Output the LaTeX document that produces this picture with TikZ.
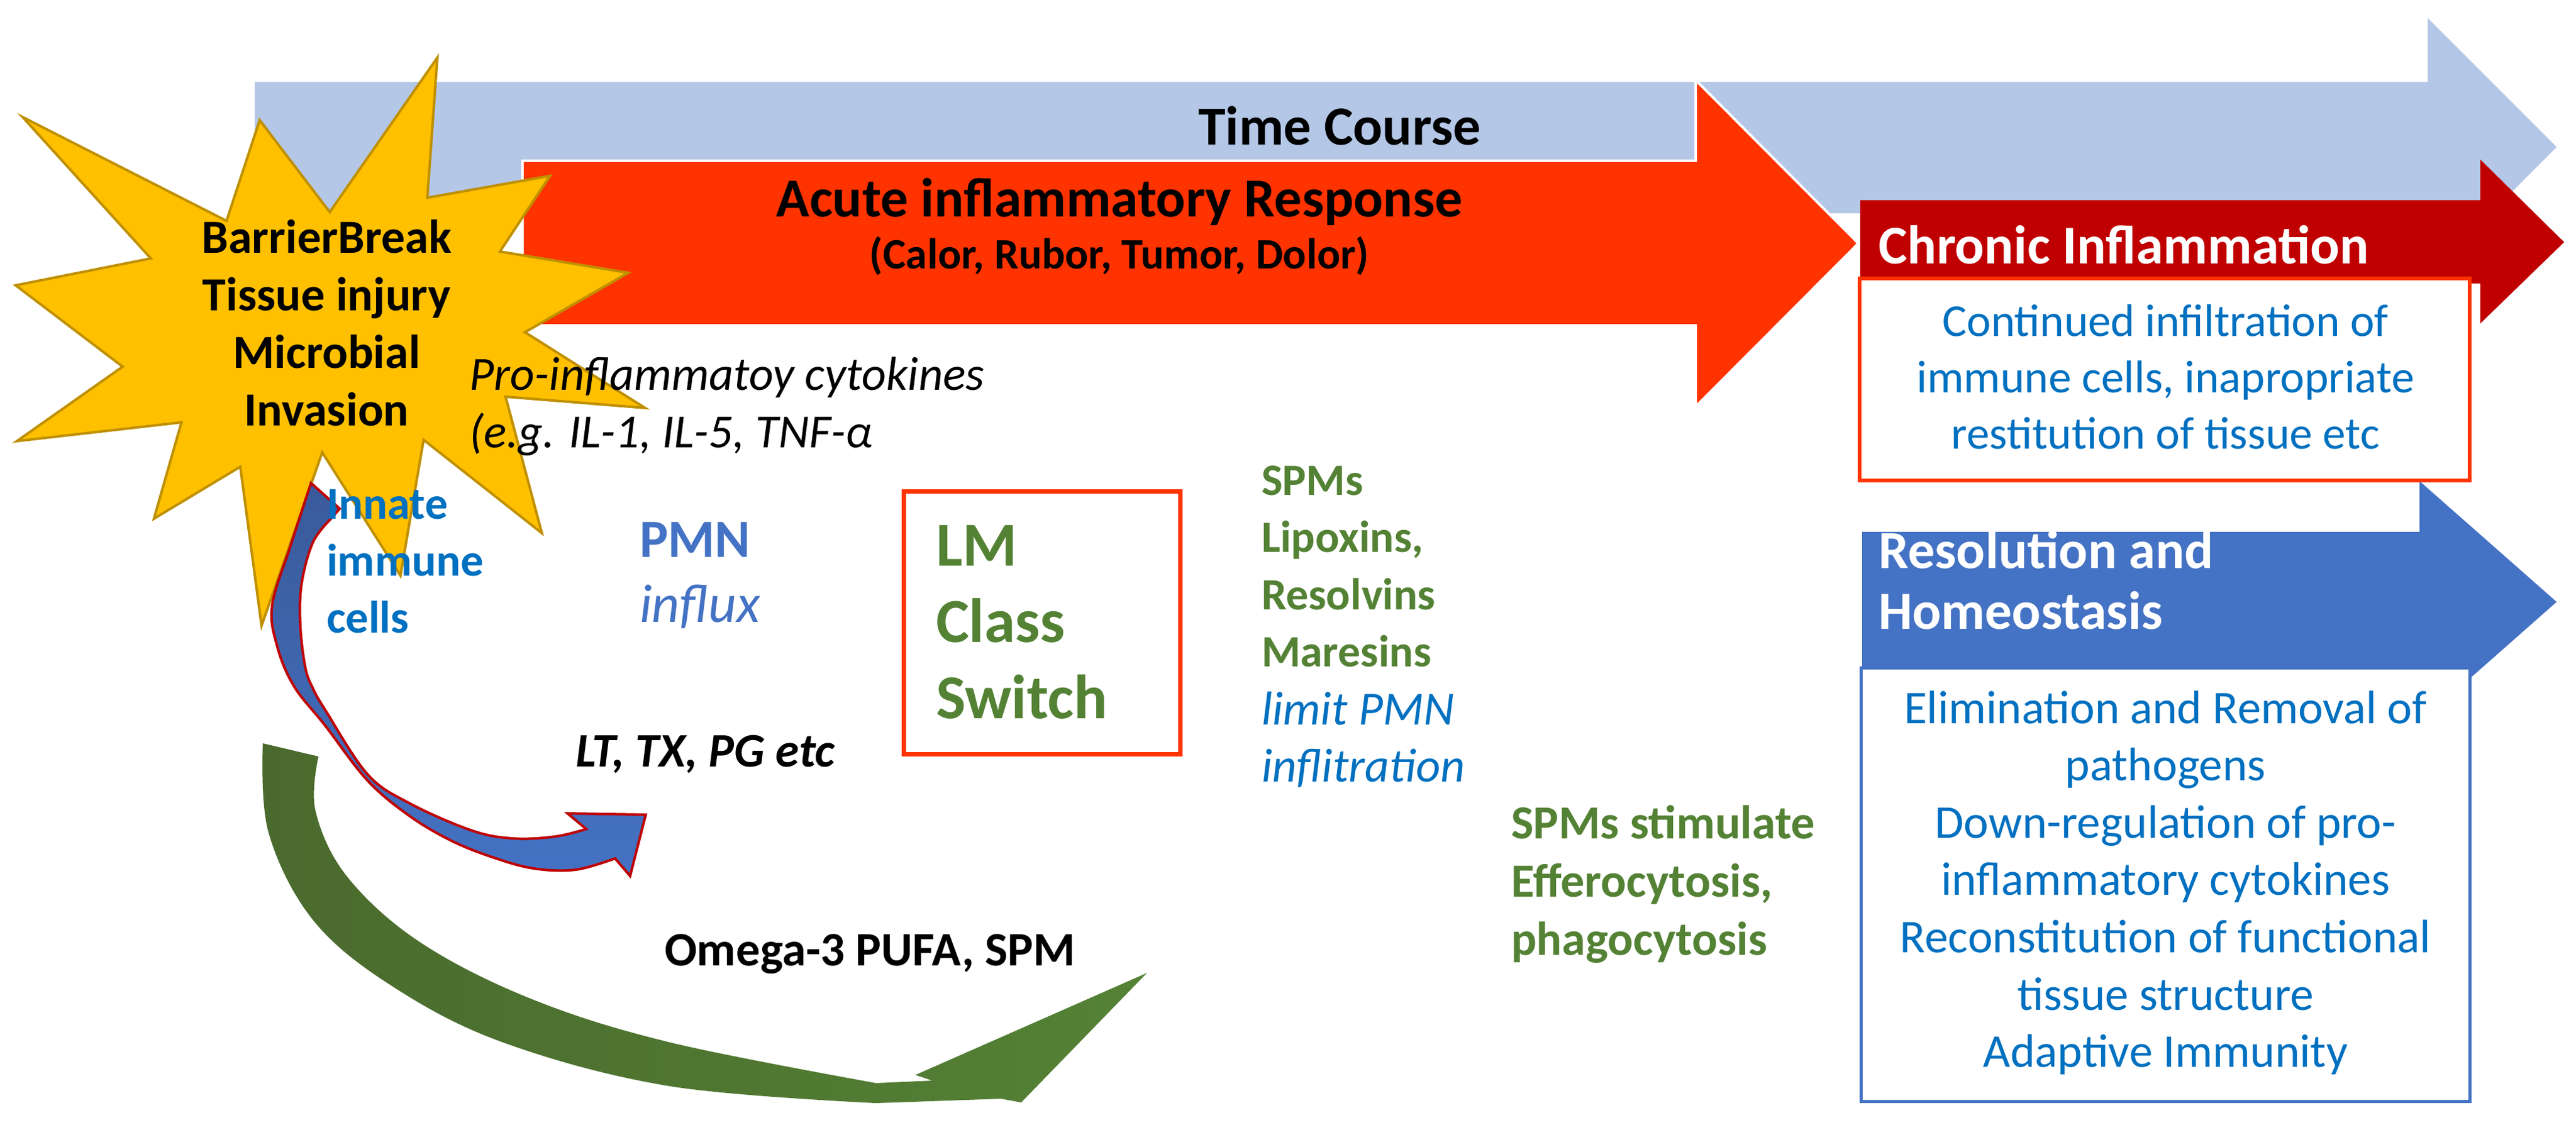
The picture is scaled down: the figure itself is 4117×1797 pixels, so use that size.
\documentclass[tikz,border=0pt]{standalone}
\usepackage{fontspec}
\setmainfont{Carlito}
\definecolor{lblue}{HTML}{B4C7E7}
\definecolor{acute}{HTML}{FF3300}
\definecolor{chronic}{HTML}{C00000}
\definecolor{resol}{HTML}{4472C4}
\definecolor{txtblue}{HTML}{0070C0}
\definecolor{txtgreen}{HTML}{548235}
\definecolor{gdark}{HTML}{4A6A2D}
\definecolor{starY}{HTML}{FFC000}
\definecolor{starB}{HTML}{BF9000}
\definecolor{bdark}{HTML}{3A5A9A}
\newcommand{\LC}[1]{\vtop{\halign{\hfil##\hfil\cr#1\crcr}}}
\newcommand{\LL}[1]{\vtop{\halign{##\hfil\cr#1\crcr}}}
\newcommand{\fs}[2]{\fontsize{#1}{#2}\selectfont}
\tikzset{
  every node/.style={inner sep=0pt, outer sep=0pt},
  ctext/.style={anchor=base},
  ltext/.style={anchor=base west},
}
\begin{document}
\begin{tikzpicture}[x=0.25pt,y=-0.25pt]
\useasboundingbox (0,0) rectangle (4117,1797);
% Time course arrow
\fill[lblue] (407,131) -- (3880,131) -- (3880,29) -- (4086,235) -- (3880,441) -- (3880,341) -- (407,341) -- cycle;
% Acute arrow
\filldraw[fill=acute, draw=white, line width=1pt] (835,257) -- (2710,257) -- (2710,128) -- (2970,389) -- (2710,650) -- (2710,520) -- (835,520) -- cycle;
% Chronic arrow
\fill[chronic] (2973,320) -- (3964,320) -- (3964,255) -- (4098,387) -- (3964,517) -- (3964,453) -- (2973,453) -- cycle;
% Resolution arrow
\fill[resol] (2976,850) -- (3867,850) -- (3867,769) -- (4086,962) -- (3867,1155) -- (3867,1074) -- (2976,1074) -- cycle;
% boxes
\draw[acute, line width=1.5pt, fill=white] (2972,445) rectangle (3947,768);
\draw[resol, line width=1.25pt, fill=white] (2974,1067) rectangle (3947,1760);
\draw[acute, line width=1.75pt] (1444,785) rectangle (1886,1205);
% star
\filldraw[fill=starY, draw=starB, line width=1pt]
 (699,92) -- (683,316) -- (879,281) -- (799,402) -- (1004,436) -- (839,531) -- (1031,652) -- (808,634) -- (866,852) -- (677,703) -- (640,920) -- (515,723) -- (418,1000) -- (384,746) -- (246,829) -- (290,675) -- (27,705) -- (196,586) -- (25,456) -- (241,413) -- (36,187) -- (362,353) -- (415,192) -- (527,339) -- cycle;
% green arrow
\path[left color=gdark, right color=txtgreen]
 plot[smooth, tension=0.6] coordinates {(420,1188) (429,1330) (500,1470) (625,1575) (804,1666) (1071,1736) (1400,1763)}
 -- (1600,1756) -- (1632,1762) -- (1833,1555) -- (1463,1718) -- (1490,1727)
 -- plot[smooth, tension=0.6] coordinates {(1400,1731) (1071,1666) (848,1596) (670,1505) (554,1400) (504,1295) (509,1209)} -- cycle;
% blue curved arrow
\filldraw[draw=chronic, line width=1pt, top color=bdark, bottom color=resol]
 plot[smooth, tension=0.6] coordinates {(497,772) (465,870) (435,967) (443,1033) (470,1097) (520,1160) (587,1247) (653,1303) (720,1343) (787,1370) (853,1388) (920,1390) (983,1372)}
 -- (1007,1400) -- (1032,1302) -- (907,1300) -- (937,1325)
 -- plot[smooth, tension=0.6] coordinates {(937,1325) (887,1337) (820,1340) (753,1327) (653,1283) (587,1237) (520,1135) (500,1100) (488,1067) (480,1000) (482,933) (500,867) (528,830)}
 -- (543,813) -- cycle;
% texts
\node[ctext, font=\fs{19}{23}\bfseries] (star) at (522,405) {\LC{BarrierBreak\cr Tissue injury\cr Microbial\cr Invasion}};
\node[ctext, font=\fs{22}{26}\bfseries] (time) at (2141,232) {Time Course};
\node[ctext, font=\fs{22}{26}\bfseries] (acuteT) at (1789,347) {Acute inflammatory Response};
\node[ctext, font=\fs{17.3}{21}\bfseries] (calor) at (1789,429) {(Calor, Rubor, Tumor, Dolor)};
\node[ltext, font=\fs{21.8}{26}\bfseries, text=white] (chronT) at (3002,422) {Chronic Inflammation};
\node[ctext, font=\fs{18.3}{22.5}, text=txtblue] (chronB) at (3461,537) {\LC{Continued infiltration of\cr immune cells, inapropriate\cr restitution of tissue etc}};
\node[ltext, font=\fs{21.5}{24.25}\bfseries, text=white] (resT) at (3002,908) {\LL{Resolution and\cr Homeostasis}};
\node[ctext, font=\fs{18.8}{22.9}, text=txtblue] (resB) at (3461,1156) {\LC{Elimination and Removal of\cr pathogens\cr Down-regulation of pro-\cr inflammatory cytokines\cr Reconstitution of functional\cr tissue structure\cr Adaptive Immunity}};
\node[ltext, font=\fs{19}{23}\itshape] (pro) at (750,623) {\LL{Pro-inflammatoy cytokines\cr (e.g. IL-1, IL-5, TNF-α}};
\node[ltext, font=\fs{18.2}{22.75}\bfseries, text=txtblue] (innate) at (522,829) {\LL{Innate\cr immune\cr cells}};
\node[ltext, font=\fs{21.5}{26}\bfseries, text=resol] (pmn) at (1022,890) {PMN};
\node[ltext, font=\fs{21.7}{26}\itshape, text=resol] (influx) at (1022,994) {influx};
\node[ltext, font=\fs{19.2}{21}\bfseries\itshape] (lt) at (920,1225) {LT, TX, PG etc};
\node[ltext, font=\fs{19.2}{21}\bfseries] (omega) at (1062,1543) {Omega-3 PUFA, SPM};
\node[ltext, font=\fs{25}{30.5}\bfseries, text=txtgreen] (lm) at (1496,904) {\LL{LM\cr Class\cr Switch}};
\node[ltext, font=\fs{17.9}{22.9}\bfseries, text=txtgreen] (spms) at (2016,791) {\LL{SPMs\cr Lipoxins,\cr Resolvins\cr Maresins}};
\node[ltext, font=\fs{19}{22.9}\itshape, text=txtblue] (limit) at (2016,1158) {\LL{limit PMN\cr inflitration}};
\node[ltext, font=\fs{19}{23.25}\bfseries, text=txtgreen] (stim) at (2415,1340) {\LL{SPMs stimulate\cr Efferocytosis,\cr phagocytosis}};
\end{tikzpicture}
\end{document}
